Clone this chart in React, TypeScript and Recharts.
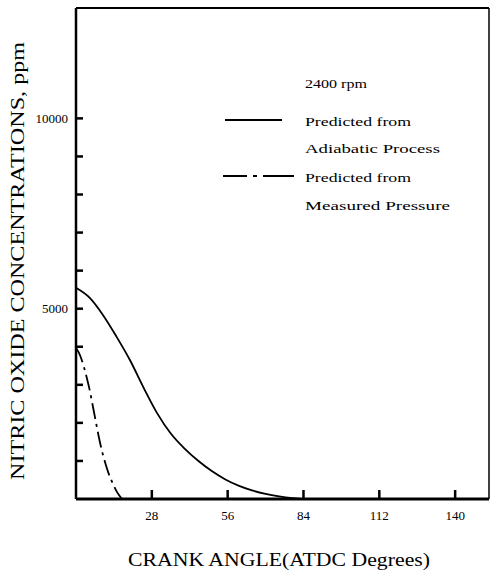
import React from 'react';
import { LineChart, Line, XAxis, YAxis, ReferenceLine } from 'recharts';

// crank angle (deg) vs NO concentration (ppm)
const adiabaticAngle = [0, 5, 10, 15, 20, 25, 30, 35, 40, 45, 50, 55, 60, 65, 70, 75, 80, 83];
const adiabaticNO = [5550, 5290, 4830, 4260, 3640, 2920, 2250, 1720, 1330, 1010, 740, 520, 350, 225, 135, 70, 22, 0];

const measuredAngle = [0, 1, 2, 3, 4, 5, 6, 7, 8, 9, 10, 11, 12, 13, 14, 15, 16, 17];
const measuredNO = [3970, 3850, 3680, 3450, 3180, 2880, 2520, 2150, 1780, 1440, 1150, 900, 680, 500, 340, 200, 90, 0];

const xTicks = [28, 56, 84, 112, 140];
const yTicks = [1000, 2000, 3000, 4000, 5000, 6000, 7000, 8000, 9000, 10000];
const yLabels = [5000, 10000];

const X_MAX = 152.5;
const Y_MAX = 12900;

const FONT = '"Liberation Serif", "DejaVu Serif", serif';
const tickStyle = { fontFamily: FONT, fontSize: 13, fill: '#000' };

const adiabatic = adiabaticAngle.map((a, i) => ({ angle: a, no: adiabaticNO[i] }));
const measured = measuredAngle.map((a, i) => ({ angle: a, no: measuredNO[i] }));

export default function App() {
  return (
    <div style={{ position: 'absolute', left: 0, top: 0, width: 491, height: 575, background: '#fff' }}>
      <LineChart
        width={491}
        height={575}
        margin={{ top: 8, right: 2, bottom: 46, left: 0 }}
      >
        <XAxis
          type="number"
          dataKey="angle"
          domain={[0, X_MAX]}
          ticks={xTicks}
          interval={0}
          height={30}
          tickSize={-9}
          tickMargin={21}
          tickLine={{ stroke: '#000', strokeWidth: 2.5 }}
          tick={tickStyle}
          axisLine={{ stroke: '#000', strokeWidth: 3 }}
          allowDuplicatedCategory={false}
        />
        <YAxis
          type="number"
          dataKey="no"
          domain={[0, Y_MAX]}
          ticks={yTicks}
          interval={0}
          width={76}
          tickSize={-7}
          tickMargin={15}
          tickFormatter={(v: number) => (yLabels.includes(v) ? String(v) : '')}
          tickLine={{ stroke: '#000', strokeWidth: 2.5 }}
          tick={tickStyle}
          axisLine={{ stroke: '#000', strokeWidth: 2.5 }}
        />
        <ReferenceLine y={Y_MAX} stroke="#000" strokeWidth={2} />
        <ReferenceLine x={X_MAX} stroke="#000" strokeWidth={1.5} />
        <Line
          data={adiabatic}
          dataKey="no"
          type="monotone"
          stroke="#000"
          strokeWidth={1.8}
          dot={false}
          isAnimationActive={false}
        />
        <Line
          data={measured}
          dataKey="no"
          type="monotone"
          stroke="#000"
          strokeWidth={1.8}
          strokeDasharray="16 5 3 5"
          dot={false}
          isAnimationActive={false}
        />
      </LineChart>
      <svg
        width={491}
        height={575}
        style={{ position: 'absolute', left: 0, top: 0, pointerEvents: 'none' }}
        fontFamily={FONT}
        fill="#000"
      >
        <text x={305} y={88} fontSize={13} textLength={62} lengthAdjust="spacingAndGlyphs">2400 rpm</text>
        <line x1={225} y1={120} x2={282} y2={120} stroke="#000" strokeWidth={2} />
        <text x={305} y={126} fontSize={13} textLength={106} lengthAdjust="spacingAndGlyphs">Predicted from</text>
        <text x={305} y={153} fontSize={13} textLength={135} lengthAdjust="spacingAndGlyphs">Adiabatic Process</text>
        <line x1={223} y1={176} x2={294} y2={176} stroke="#000" strokeWidth={2} strokeDasharray="24 6 4 6 31" />
        <text x={305} y={182} fontSize={13} textLength={106} lengthAdjust="spacingAndGlyphs">Predicted from</text>
        <text x={305} y={210} fontSize={13} textLength={145} lengthAdjust="spacingAndGlyphs">Measured Pressure</text>
        <text
          x={128}
          y={566}
          fontSize={19}
          textLength={302}
          lengthAdjust="spacingAndGlyphs"
        >
          CRANK  ANGLE(ATDC  Degrees)
        </text>
        <text
          transform="translate(24,480) rotate(-90)"
          x={0}
          y={0}
          fontSize={19}
          textLength={438}
          lengthAdjust="spacingAndGlyphs"
        >
          NITRIC  OXIDE  CONCENTRATIONS, ppm
        </text>
      </svg>
    </div>
  );
}
